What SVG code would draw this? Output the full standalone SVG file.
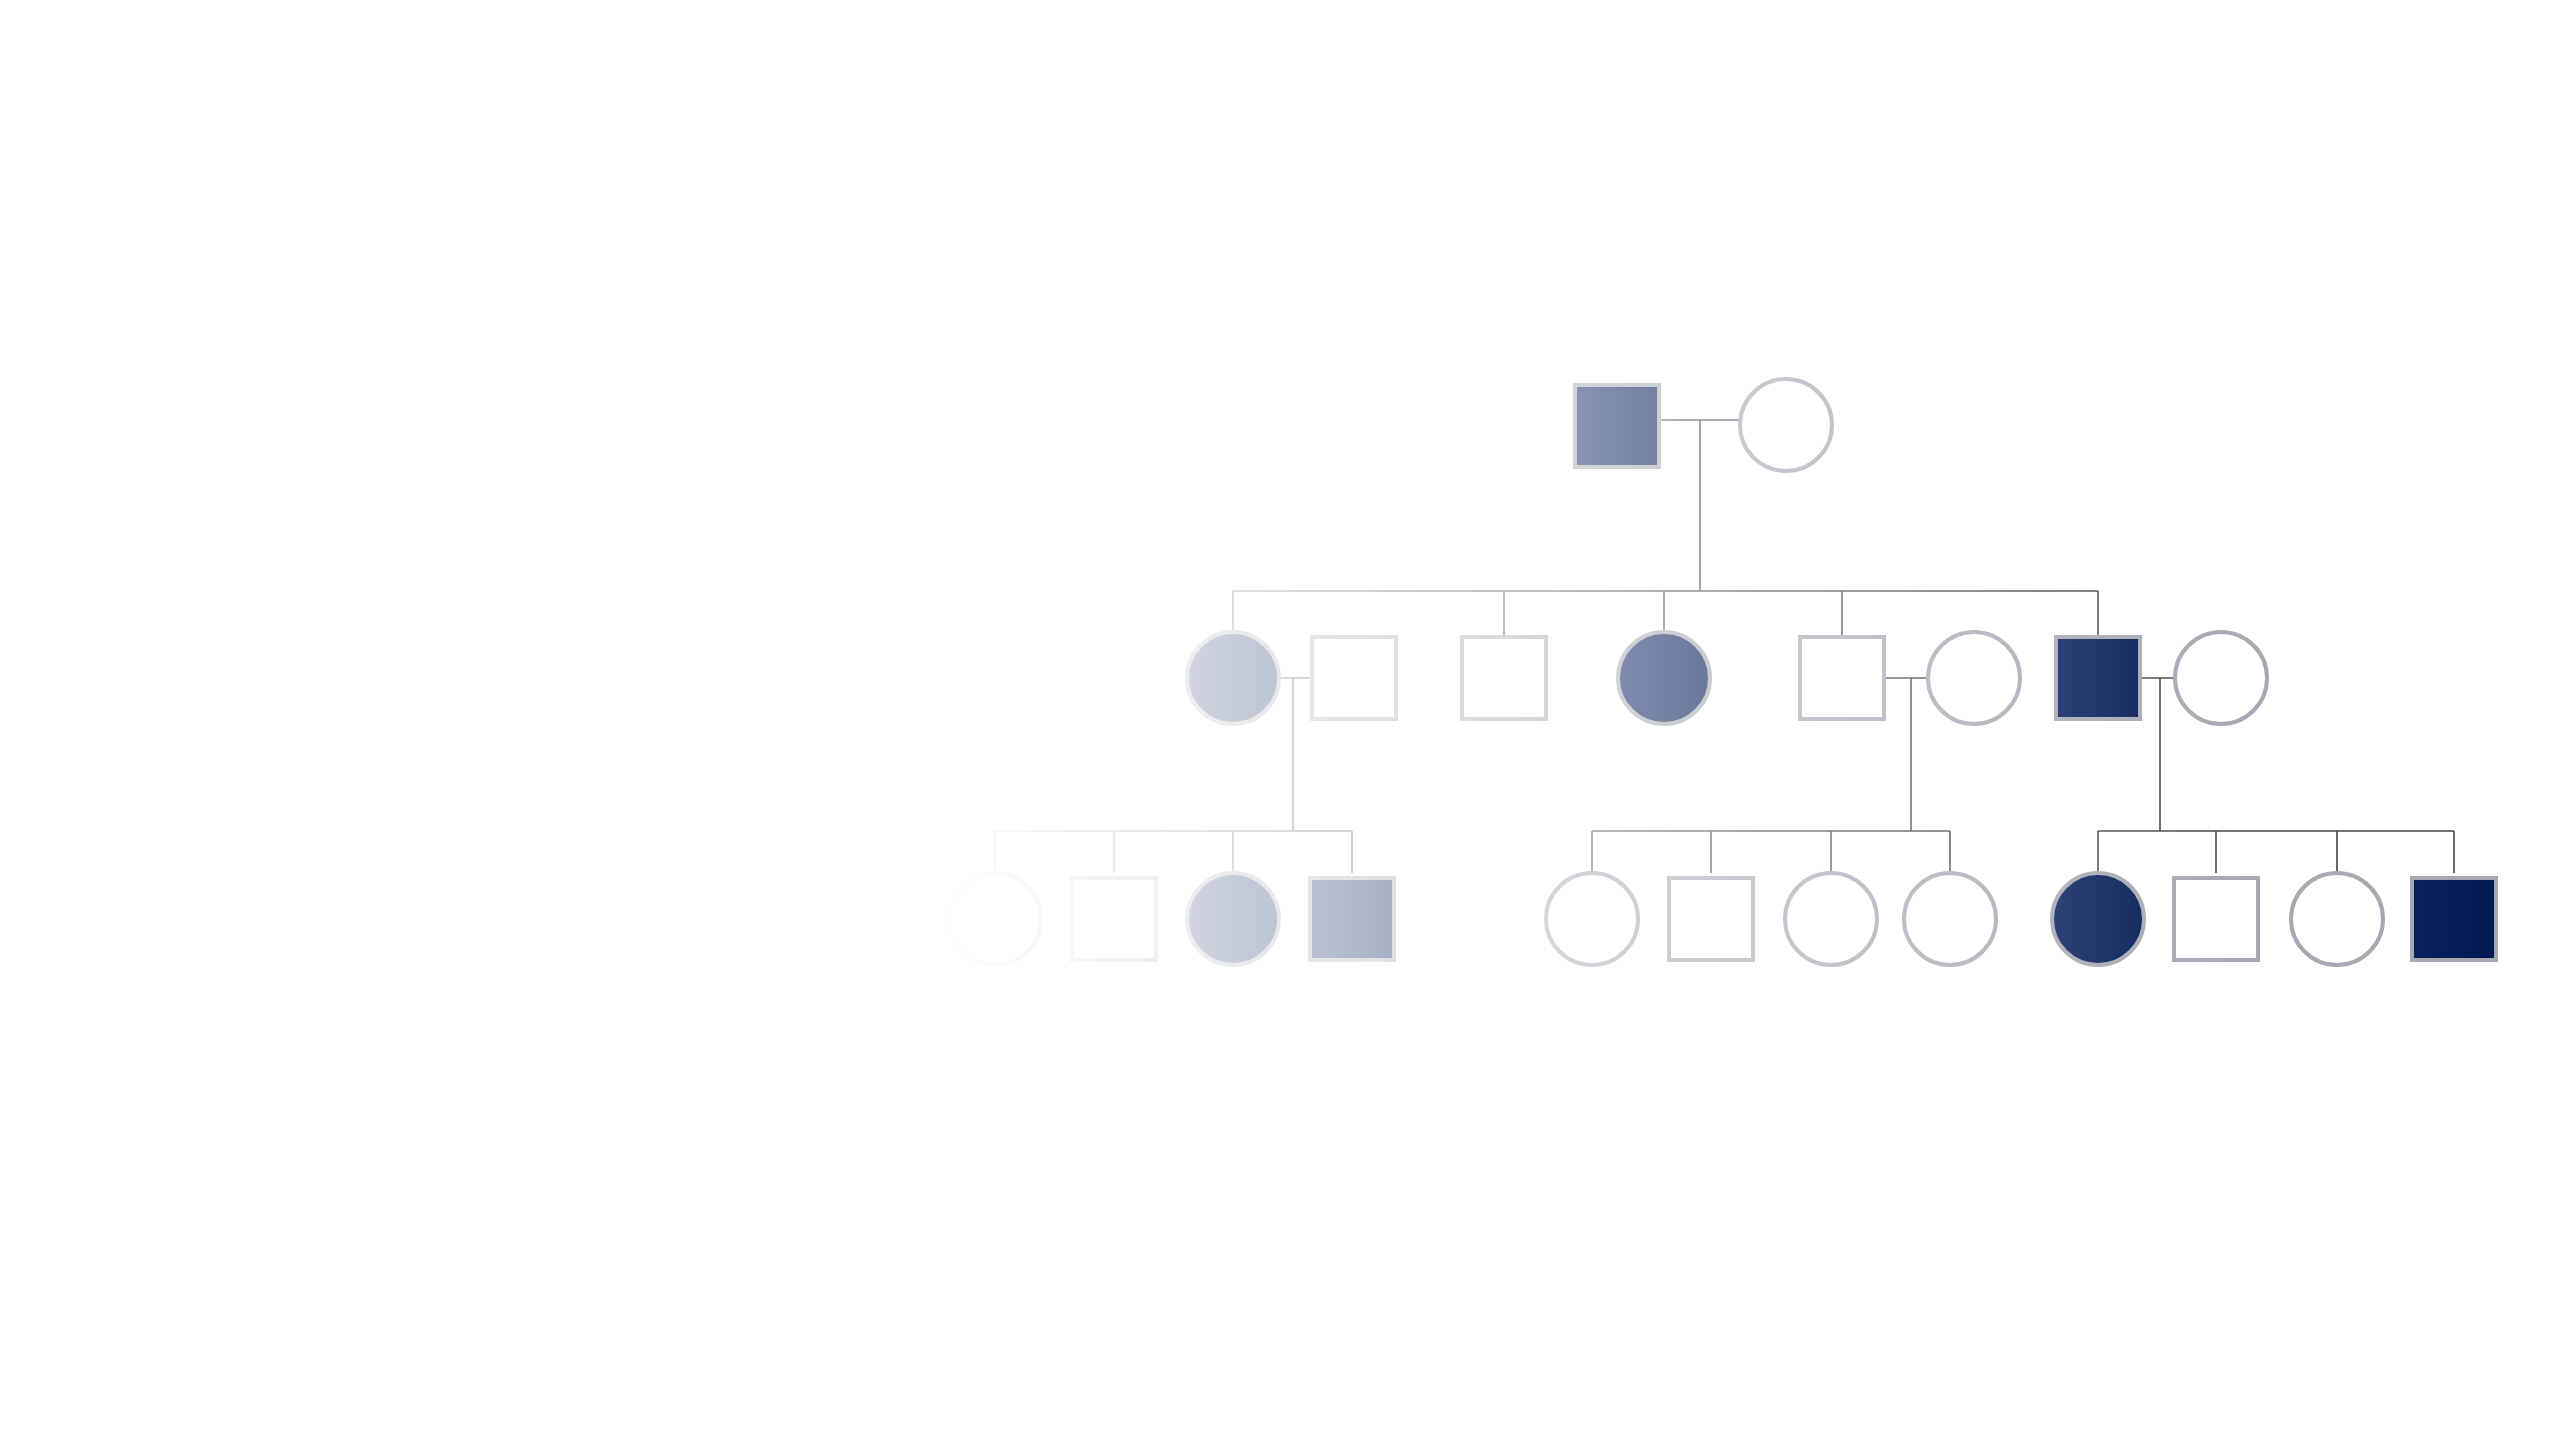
<svg xmlns="http://www.w3.org/2000/svg" width="2560" height="1441" viewBox="0 0 2560 1441">
<defs>
<linearGradient id="fade" gradientUnits="userSpaceOnUse" x1="940" y1="0" x2="2250" y2="0">
<stop offset="0" stop-color="#fff" stop-opacity="1"/>
<stop offset="1" stop-color="#fff" stop-opacity="0"/>
</linearGradient>
<linearGradient id="aff" x1="0" y1="0" x2="1" y2="0">
<stop offset="0" stop-color="#0a2060"/>
<stop offset="1" stop-color="#001a52"/>
</linearGradient>
</defs>
<style>
.n{stroke:#a6a8b2;stroke-width:4;fill:#fff}
.a{fill:url(#aff)}
.l{stroke:#444;stroke-width:1.6;fill:none}
</style>
<rect width="2560" height="1441" fill="#fff"/>
<g id="connectors" class="l">
<path d="M1660 420H1741M1700 420V591M1233 591H2098M1233 591V636M1504 591V636M1664 591V636M1842 591V636M2098 591V636"/>
<path d="M1280 678H1311M1293 678V831M995 831H1352M995 831V873M1114 831V873M1233 831V873M1352 831V873"/>
<path d="M1886 678H1929M1911 678V831M1592 831H1950M1592 831V873M1711 831V873M1831 831V873M1950 831V873"/>
<path d="M2141 678H2175M2160 678V831M2098 831H2454M2098 831V873M2216 831V873M2337 831V873M2454 831V873"/>
</g>
<g id="g1a"><rect class="n a" x="1575" y="385" width="84" height="82"/></g>
<g id="g1b"><circle class="n" cx="1786" cy="425" r="46"/></g>
<g id="g2a"><circle class="n a" cx="1233" cy="678" r="46"/></g>
<g id="g2b"><rect class="n" x="1312" y="637" width="84" height="82"/></g>
<g id="g2c"><rect class="n" x="1462" y="637" width="84" height="82"/></g>
<g id="g2d"><circle class="n a" cx="1664" cy="678" r="46"/></g>
<g id="g2e"><rect class="n" x="1800" y="637" width="84" height="82"/></g>
<g id="g2f"><circle class="n" cx="1974" cy="678" r="46"/></g>
<g id="g2g"><rect class="n a" x="2056" y="637" width="84" height="82"/></g>
<g id="g2h"><circle class="n" cx="2221" cy="678" r="46"/></g>
<g id="g3a"><circle class="n" cx="995" cy="919" r="46"/></g>
<g id="g3b"><rect class="n" x="1072" y="878" width="84" height="82"/></g>
<g id="g3c"><circle class="n a" cx="1233" cy="919" r="46"/></g>
<g id="g3d"><rect class="n a" x="1310" y="878" width="84" height="82"/></g>
<g id="g3e"><circle class="n" cx="1592" cy="919" r="46"/></g>
<g id="g3f"><rect class="n" x="1669" y="878" width="84" height="82"/></g>
<g id="g3g"><circle class="n" cx="1831" cy="919" r="46"/></g>
<g id="g3h"><circle class="n" cx="1950" cy="919" r="46"/></g>
<g id="g3i"><circle class="n a" cx="2098" cy="919" r="46"/></g>
<g id="g3j"><rect class="n" x="2174" y="878" width="84" height="82"/></g>
<g id="g3k"><circle class="n" cx="2337" cy="919" r="46"/></g>
<g id="g3l"><rect class="n a" x="2412" y="878" width="84" height="82"/></g>
<rect x="0" y="300" width="2560" height="720" fill="url(#fade)"/>
</svg>
